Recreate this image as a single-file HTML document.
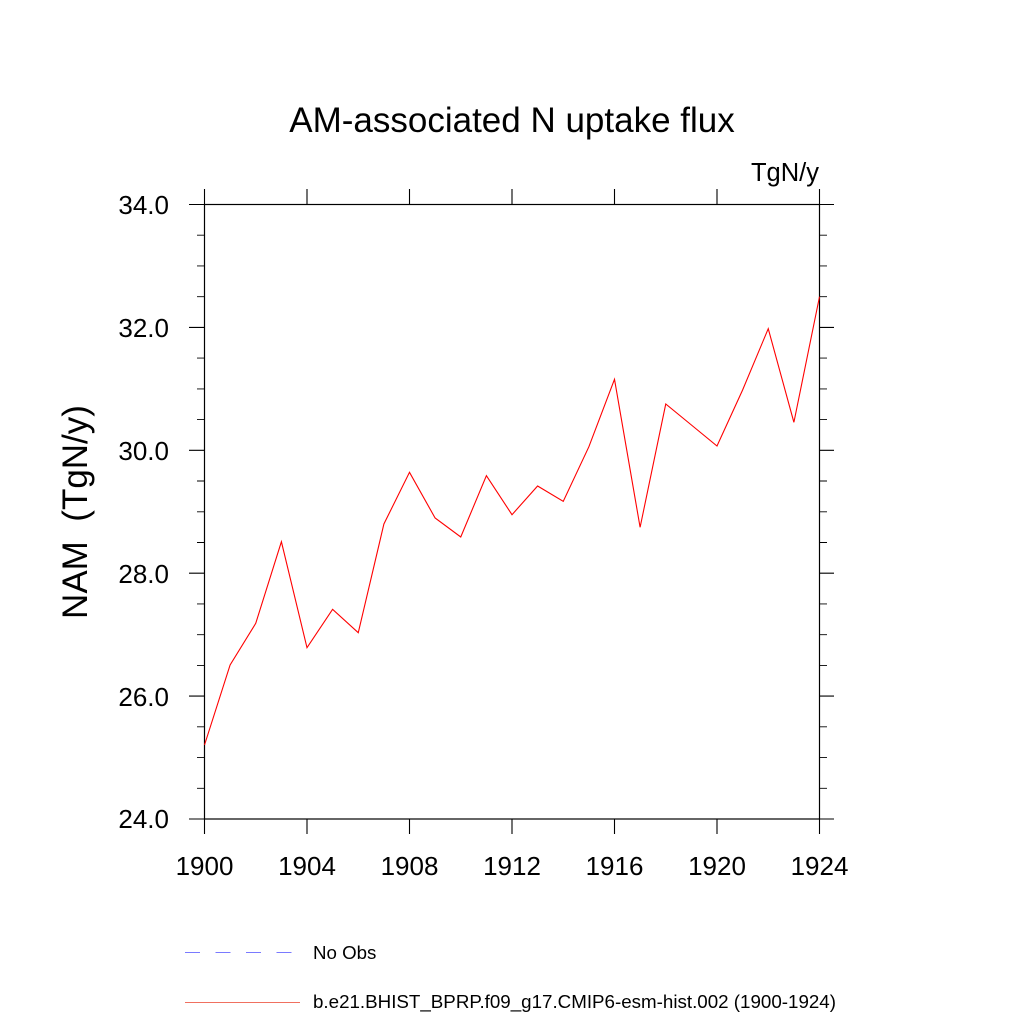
<!DOCTYPE html>
<html>
<head>
<meta charset="utf-8">
<style>
  html,body{margin:0;padding:0;background:#fff;}
  svg{display:block;}
  text{font-family:"Liberation Sans",Arial,Helvetica,sans-serif;fill:#000;}
</style>
</head>
<body>
<svg width="1024" height="1024" viewBox="0 0 1024 1024" xmlns="http://www.w3.org/2000/svg">
  <rect width="1024" height="1024" fill="#fff"/>

  <!-- Title -->
  <text x="512" y="132" font-size="35" text-anchor="middle">AM-associated N uptake flux</text>
  <text x="819" y="181" font-size="25.5" text-anchor="end">TgN/y</text>

  <!-- Y axis title -->
  <text transform="translate(87,512) rotate(-90)" font-size="35" text-anchor="middle" xml:space="preserve">NAM  (TgN/y)</text>

  <!-- Frame -->
  <g stroke="#000" stroke-width="1.2" fill="none">
    <rect x="204.5" y="204.5" width="615" height="614.5"/>
  </g>

  <!-- Ticks -->
  <g stroke="#000" stroke-width="1.1">
    <path d="M189,204.5H204.5 M189,327.4H204.5 M189,450.3H204.5 M189,573.2H204.5 M189,696.1H204.5 M189,819H204.5"/>
    <path d="M819.5,204.5H834 M819.5,327.4H834 M819.5,450.3H834 M819.5,573.2H834 M819.5,696.1H834 M819.5,819H834"/>
    <path stroke-width="0.9" d="M197,235.2H204.5 M197,265.9H204.5 M197,296.7H204.5 M197,358.1H204.5 M197,388.9H204.5 M197,419.6H204.5 M197,481H204.5 M197,511.8H204.5 M197,542.5H204.5 M197,603.9H204.5 M197,634.7H204.5 M197,665.4H204.5 M197,726.8H204.5 M197,757.6H204.5 M197,788.3H204.5"/>
    <path stroke-width="0.9" d="M819.5,235.2H827 M819.5,265.9H827 M819.5,296.7H827 M819.5,358.1H827 M819.5,388.9H827 M819.5,419.6H827 M819.5,481H827 M819.5,511.8H827 M819.5,542.5H827 M819.5,603.9H827 M819.5,634.7H827 M819.5,665.4H827 M819.5,726.8H827 M819.5,757.6H827 M819.5,788.3H827"/>
    <path d="M204.5,819V834 M307,819V834 M409.5,819V834 M512,819V834 M614.5,819V834 M717,819V834 M819.5,819V834"/>
    <path d="M204.5,189V204.5 M307,189V204.5 M409.5,189V204.5 M512,189V204.5 M614.5,189V204.5 M717,189V204.5 M819.5,189V204.5"/>
  </g>

  <!-- Y tick labels -->
  <g font-size="26" text-anchor="end">
    <text x="169" y="214">34.0</text>
    <text x="169" y="337">32.0</text>
    <text x="169" y="460">30.0</text>
    <text x="169" y="583">28.0</text>
    <text x="169" y="706">26.0</text>
    <text x="169" y="828">24.0</text>
  </g>

  <!-- X tick labels -->
  <g font-size="26" text-anchor="middle">
    <text x="204.5" y="875">1900</text>
    <text x="307" y="875">1904</text>
    <text x="409.5" y="875">1908</text>
    <text x="512" y="875">1912</text>
    <text x="614.5" y="875">1916</text>
    <text x="717" y="875">1920</text>
    <text x="819.5" y="875">1924</text>
  </g>

  <!-- Data series -->
  <polyline fill="none" stroke="#ff0000" stroke-width="1.1" stroke-linejoin="miter"
    points="204.5,745 230.1,665 255.75,623.3 281.4,541.7 307,647.7 332.6,609.3 358.25,632.7 383.9,524 409.5,472.3 435.1,518 460.75,537 486.4,475.7 512,514.7 537.6,486 563.25,501.3 588.9,446.7 614.5,379.3 640.1,527.3 665.75,404 691.4,425 717,446 742.6,390 768.25,328.7 793.9,422.3 819.5,296.7"/>

  <!-- Legend -->
  <line x1="185" y1="952.5" x2="292" y2="952.5" stroke="#7a7aff" stroke-width="1" stroke-dasharray="15,15.5"/>
  <text x="313" y="959" font-size="18.7">No Obs</text>
  <line x1="185" y1="1002.5" x2="300" y2="1002.5" stroke="#f07060" stroke-width="1"/>
  <text x="313" y="1008" font-size="18.7" textLength="523" lengthAdjust="spacingAndGlyphs">b.e21.BHIST_BPRP.f09_g17.CMIP6-esm-hist.002 (1900-1924)</text>
</svg>
</body>
</html>
